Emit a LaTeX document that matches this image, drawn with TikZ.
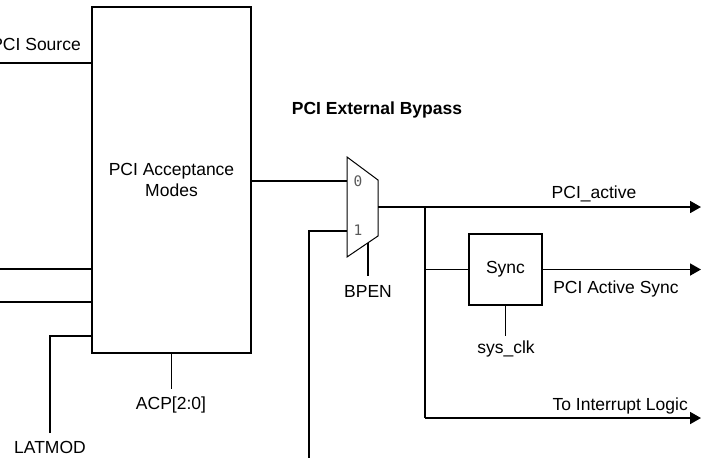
\documentclass[tikz,border=0pt]{standalone}
\usepackage{fontspec}
\setmainfont{Liberation Sans}
\newfontfamily\muxfont{DejaVu Sans Mono}
\usetikzlibrary{arrows.meta}
\begin{document}
\begin{tikzpicture}[x=1pt,y=-1pt,
  wire/.style={line width=1.8pt},
  sig/.style={wire,-{Triangle[length=11pt,width=12pt]}},
  lbl/.style={font=\fontsize{17.5}{21}\selectfont, inner sep=0pt},
  ttl/.style={font=\fontsize{17.5}{21}\selectfont\bfseries, inner sep=0pt},
  blk/.style={draw, line width=1.8pt, inner sep=0pt, font=\fontsize{17.5}{21}\selectfont, align=center},
  muxbody/.style={draw, line width=1pt, line join=miter},
  muxlbl/.style={font=\muxfont\fontsize{14.5}{16}\selectfont, text=black!65, inner sep=0pt}]
\useasboundingbox (0,0) rectangle (702,458);

% main block
\node[blk, minimum width=159pt, minimum height=346pt] (acc) at (171.5,180) {PCI Acceptance\\Modes};

% left inputs
\coordinate (inA) at (0,63);
\coordinate (inB) at (0,269);
\coordinate (inC) at (0,302);
\draw[wire] (inA) -- (inA -| acc.west);
\draw[wire] (inB) -- (inB -| acc.west);
\draw[wire] (inC) -- (inC -| acc.west);
\node[lbl, anchor=base east] (src) at (81,50) {PCI Source};

% LATMOD
\coordinate (latt) at (50,433);
\coordinate (latr) at (0,336);
\draw[wire] (latt) |- (latr -| acc.west);
\node[lbl, anchor=base] (lat) at (50,453) {LATMOD};

% ACP
\coordinate (acpe) at (171.5,389);
\draw[wire] (acc.south) -- (acpe);
\node[lbl, anchor=base] (acp) at (171,409) {ACP[2:0]};

% title
\node[ttl, anchor=base] (title) at (377,114) {PCI External Bypass};

% mux
\coordinate (mtl) at (347,157);
\coordinate (mtr) at (378,180);
\coordinate (mbr) at (378,236);
\coordinate (mbl) at (347,257);
\draw[muxbody] (mtl) -- (mtr) -- (mbr) -- (mbl) -- cycle;
\coordinate (m0) at (347,181);
\coordinate (m1) at (347,231);
\coordinate (mo) at (378,207);
\coordinate (ms) at (368,243);
\node[muxlbl] (d0) at (358,181) {0};
\node[muxlbl] (d1) at (358,230) {1};

\draw[wire] (acc.east |- m0) -- (m0);
\coordinate (byp) at (309,460);
\draw[wire] (byp) |- (m1);

% BPEN
\coordinate (bpe) at (368,276);
\draw[wire] (ms) -- (bpe);
\node[lbl, anchor=base] (bpen) at (368,297) {BPEN};

% outputs
\coordinate (j1) at (425,207);
\coordinate (j3) at (425,418);
\coordinate (o1) at (701,207);
\coordinate (o3) at (701,418);
\draw[sig] (mo) -- (o1);
\draw[wire] (j1) -- (j3);
\draw[sig] (j3) -- (o3);

% sync
\node[blk, minimum width=73pt, minimum height=71pt] (sync) at (505.5,269.5) {Sync};
\coordinate (o2) at (701,269.5);
\draw[wire] (j1 |- sync.west) -- (sync.west);
\draw[sig] (sync.east) -- (o2);
\coordinate (clke) at (505.5,336);
\draw[wire] (sync.south) -- (clke);
\node[lbl, anchor=base] (clk) at (506,353) {sys\_clk};

\node[lbl, anchor=base] (act) at (594,198) {PCI\_active};
\node[lbl, anchor=base] (acts) at (616,293) {PCI Active Sync};
\node[lbl, anchor=base east] (intr) at (688,410) {To Interrupt Logic};
\end{tikzpicture}
\end{document}
